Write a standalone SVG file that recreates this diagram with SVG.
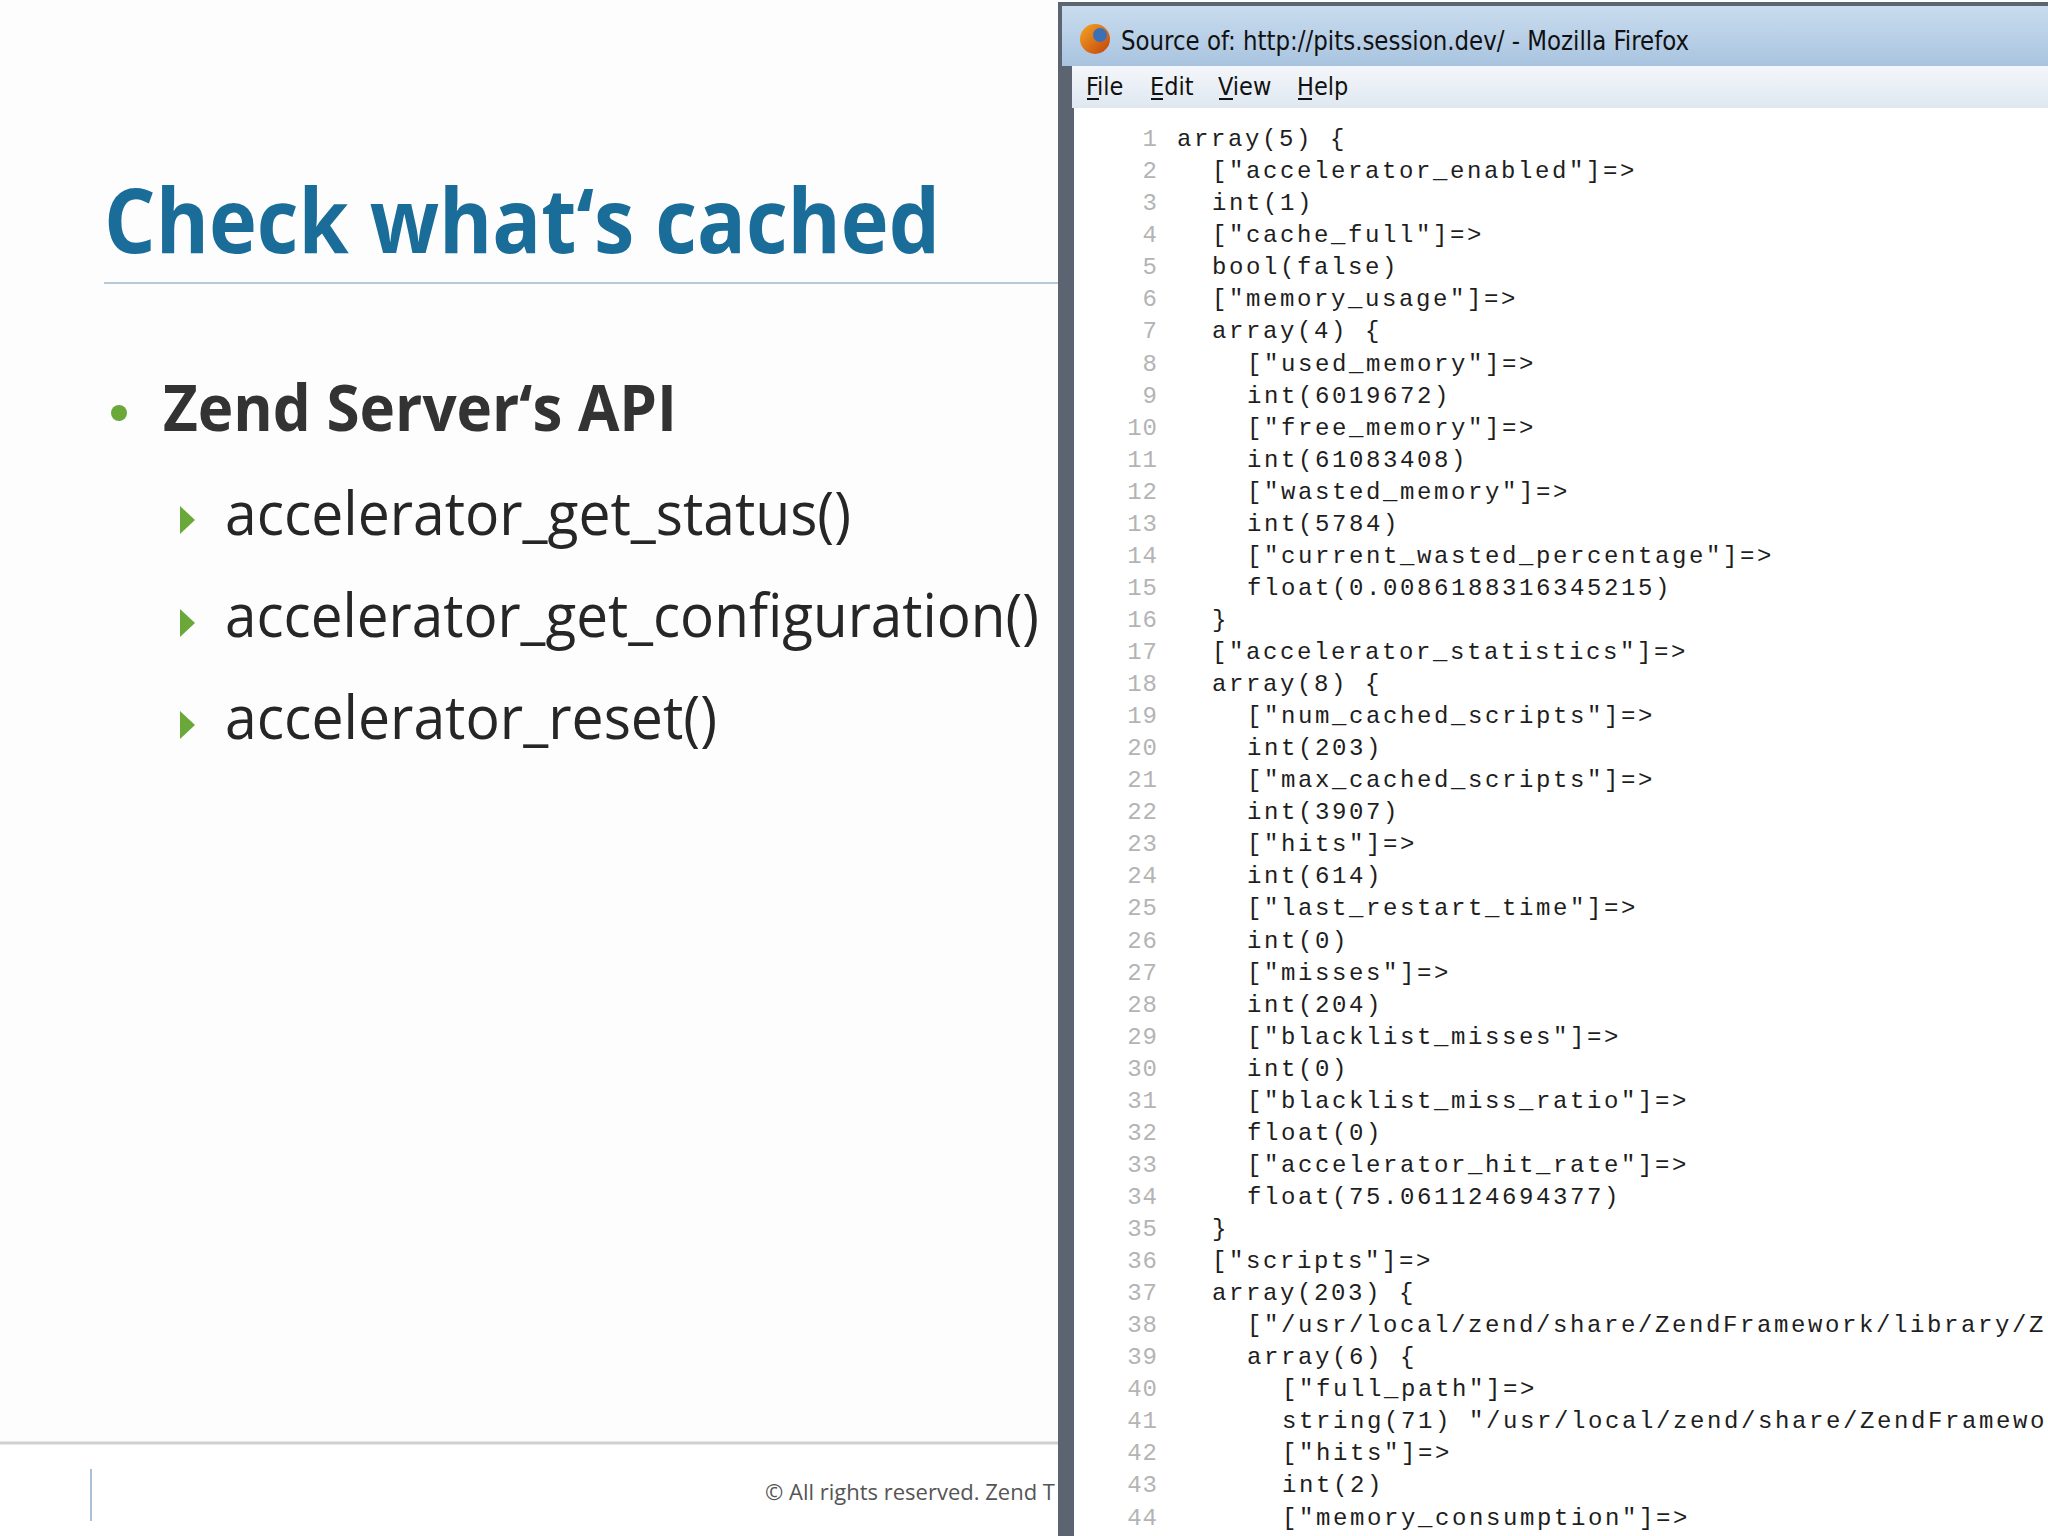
<svg xmlns="http://www.w3.org/2000/svg" width="2048" height="1536" viewBox="0 0 2048 1536">
<defs>
<style>
.ln{font-family:"Liberation Mono",monospace;font-size:24px;fill:#b4b4b4;text-anchor:end;letter-spacing:1px}
.cd{font-family:"Liberation Mono",monospace;font-size:24px;fill:#1e1e1e;letter-spacing:2.6px}
.sub{font-family:"Open Sans","DejaVu Sans",sans-serif;font-size:60px;fill:#262626}
</style>
<linearGradient id="tb" x1="0" y1="0" x2="0" y2="1"><stop offset="0" stop-color="#c9dcee"/><stop offset="1" stop-color="#a9c4e0"/></linearGradient>
<linearGradient id="mb" x1="0" y1="0" x2="0" y2="1"><stop offset="0" stop-color="#f4f7fb"/><stop offset="1" stop-color="#dfe7f0"/></linearGradient>
<linearGradient id="ff" x1="0" y1="0" x2="1" y2="1"><stop offset="0" stop-color="#f5a623"/><stop offset="1" stop-color="#c2410c"/></linearGradient>
</defs>
<rect width="2048" height="1536" fill="#fdfdfd"/>
<g id="slide">
<text x="104" y="253" font-family="'Open Sans','DejaVu Sans',sans-serif" font-weight="bold" font-size="90" fill="#1b6d99" textLength="836" lengthAdjust="spacingAndGlyphs">Check what‘s cached</text>
<line x1="104" y1="283" x2="1058" y2="283" stroke="#b8c8d8" stroke-width="2"/>
<circle cx="119" cy="413" r="8" fill="#6aa83a"/>
<text x="163" y="431" font-family="'Open Sans','DejaVu Sans',sans-serif" font-weight="bold" font-size="64" fill="#333" textLength="514" lengthAdjust="spacingAndGlyphs">Zend Server‘s API</text>
<polygon points="180,506 195,520 180,534" fill="#6aa83a"/>
<polygon points="180,609 195,623 180,637" fill="#6aa83a"/>
<polygon points="180,711 195,725 180,739" fill="#6aa83a"/>
<text class="sub" x="225" y="535" textLength="626" lengthAdjust="spacingAndGlyphs">accelerator_get_status()</text>
<text class="sub" x="225" y="637" textLength="814" lengthAdjust="spacingAndGlyphs">accelerator_get_configuration()</text>
<text class="sub" x="225" y="739" textLength="492" lengthAdjust="spacingAndGlyphs">accelerator_reset()</text>
<rect x="0" y="1443" width="1058" height="93" fill="#ffffff"/>
<line x1="0" y1="1443" x2="1058" y2="1443" stroke="#d0d0d0" stroke-width="3"/>
<line x1="91" y1="1469" x2="91" y2="1521" stroke="#a8c0d8" stroke-width="2"/>
<text x="765" y="1500" font-family="'Open Sans','DejaVu Sans',sans-serif" font-size="22" fill="#555">© All rights reserved. Zend T</text>
</g>
<g id="window">
<rect x="1058" y="2" width="995" height="1540" fill="#5b6470"/>
<rect x="1062" y="6" width="990" height="60" fill="url(#tb)"/>
<circle cx="1095" cy="39" r="15" fill="url(#ff)"/>
<circle cx="1100" cy="35" r="7" fill="#3b6fb6"/>
<text x="1121" y="50" font-family="'DejaVu Sans Condensed','Liberation Sans Narrow',sans-serif" font-stretch="condensed" font-size="26" fill="#111" textLength="568" lengthAdjust="spacingAndGlyphs">Source of: http://pits.session.dev/ - Mozilla Firefox</text>
<rect x="1072" y="66" width="980" height="42" fill="url(#mb)"/>
<text y="95" font-family="'DejaVu Sans Condensed',sans-serif" font-size="25" fill="#111"><tspan x="1086">File</tspan><tspan x="1150">Edit</tspan><tspan x="1218">View</tspan><tspan x="1297">Help</tspan></text>
<g stroke="#111" stroke-width="2"><line x1="1087" y1="99" x2="1099" y2="99"/><line x1="1151" y1="99" x2="1163" y2="99"/><line x1="1219" y1="99" x2="1233" y2="99"/><line x1="1298" y1="99" x2="1312" y2="99"/></g>
<rect x="1074" y="108" width="978" height="1430" fill="#ffffff"/>
<text class="ln"><tspan x="1158" y="146">1</tspan><tspan x="1158" y="178">2</tspan><tspan x="1158" y="210">3</tspan><tspan x="1158" y="242">4</tspan><tspan x="1158" y="274">5</tspan><tspan x="1158" y="306">6</tspan><tspan x="1158" y="338">7</tspan><tspan x="1158" y="371">8</tspan><tspan x="1158" y="403">9</tspan><tspan x="1158" y="435">10</tspan><tspan x="1158" y="467">11</tspan><tspan x="1158" y="499">12</tspan><tspan x="1158" y="531">13</tspan><tspan x="1158" y="563">14</tspan><tspan x="1158" y="595">15</tspan><tspan x="1158" y="627">16</tspan><tspan x="1158" y="659">17</tspan><tspan x="1158" y="691">18</tspan><tspan x="1158" y="723">19</tspan><tspan x="1158" y="755">20</tspan><tspan x="1158" y="787">21</tspan><tspan x="1158" y="819">22</tspan><tspan x="1158" y="851">23</tspan><tspan x="1158" y="883">24</tspan><tspan x="1158" y="915">25</tspan><tspan x="1158" y="948">26</tspan><tspan x="1158" y="980">27</tspan><tspan x="1158" y="1012">28</tspan><tspan x="1158" y="1044">29</tspan><tspan x="1158" y="1076">30</tspan><tspan x="1158" y="1108">31</tspan><tspan x="1158" y="1140">32</tspan><tspan x="1158" y="1172">33</tspan><tspan x="1158" y="1204">34</tspan><tspan x="1158" y="1236">35</tspan><tspan x="1158" y="1268">36</tspan><tspan x="1158" y="1300">37</tspan><tspan x="1158" y="1332">38</tspan><tspan x="1158" y="1364">39</tspan><tspan x="1158" y="1396">40</tspan><tspan x="1158" y="1428">41</tspan><tspan x="1158" y="1460">42</tspan><tspan x="1158" y="1492">43</tspan><tspan x="1158" y="1525">44</tspan></text>
<text class="cd"><tspan x="1177" y="146">array(5) {</tspan><tspan x="1212" y="178">["accelerator_enabled"]=&gt;</tspan><tspan x="1212" y="210">int(1)</tspan><tspan x="1212" y="242">["cache_full"]=&gt;</tspan><tspan x="1212" y="274">bool(false)</tspan><tspan x="1212" y="306">["memory_usage"]=&gt;</tspan><tspan x="1212" y="338">array(4) {</tspan><tspan x="1247" y="371">["used_memory"]=&gt;</tspan><tspan x="1247" y="403">int(6019672)</tspan><tspan x="1247" y="435">["free_memory"]=&gt;</tspan><tspan x="1247" y="467">int(61083408)</tspan><tspan x="1247" y="499">["wasted_memory"]=&gt;</tspan><tspan x="1247" y="531">int(5784)</tspan><tspan x="1247" y="563">["current_wasted_percentage"]=&gt;</tspan><tspan x="1247" y="595">float(0.0086188316345215)</tspan><tspan x="1212" y="627">}</tspan><tspan x="1212" y="659">["accelerator_statistics"]=&gt;</tspan><tspan x="1212" y="691">array(8) {</tspan><tspan x="1247" y="723">["num_cached_scripts"]=&gt;</tspan><tspan x="1247" y="755">int(203)</tspan><tspan x="1247" y="787">["max_cached_scripts"]=&gt;</tspan><tspan x="1247" y="819">int(3907)</tspan><tspan x="1247" y="851">["hits"]=&gt;</tspan><tspan x="1247" y="883">int(614)</tspan><tspan x="1247" y="915">["last_restart_time"]=&gt;</tspan><tspan x="1247" y="948">int(0)</tspan><tspan x="1247" y="980">["misses"]=&gt;</tspan><tspan x="1247" y="1012">int(204)</tspan><tspan x="1247" y="1044">["blacklist_misses"]=&gt;</tspan><tspan x="1247" y="1076">int(0)</tspan><tspan x="1247" y="1108">["blacklist_miss_ratio"]=&gt;</tspan><tspan x="1247" y="1140">float(0)</tspan><tspan x="1247" y="1172">["accelerator_hit_rate"]=&gt;</tspan><tspan x="1247" y="1204">float(75.061124694377)</tspan><tspan x="1212" y="1236">}</tspan><tspan x="1212" y="1268">["scripts"]=&gt;</tspan><tspan x="1212" y="1300">array(203) {</tspan><tspan x="1247" y="1332">["/usr/local/zend/share/ZendFramework/library/Z</tspan><tspan x="1247" y="1364">array(6) {</tspan><tspan x="1282" y="1396">["full_path"]=&gt;</tspan><tspan x="1282" y="1428">string(71) "/usr/local/zend/share/ZendFramewo</tspan><tspan x="1282" y="1460">["hits"]=&gt;</tspan><tspan x="1282" y="1492">int(2)</tspan><tspan x="1282" y="1525">["memory_consumption"]=&gt;</tspan></text>
</g>
</svg>
